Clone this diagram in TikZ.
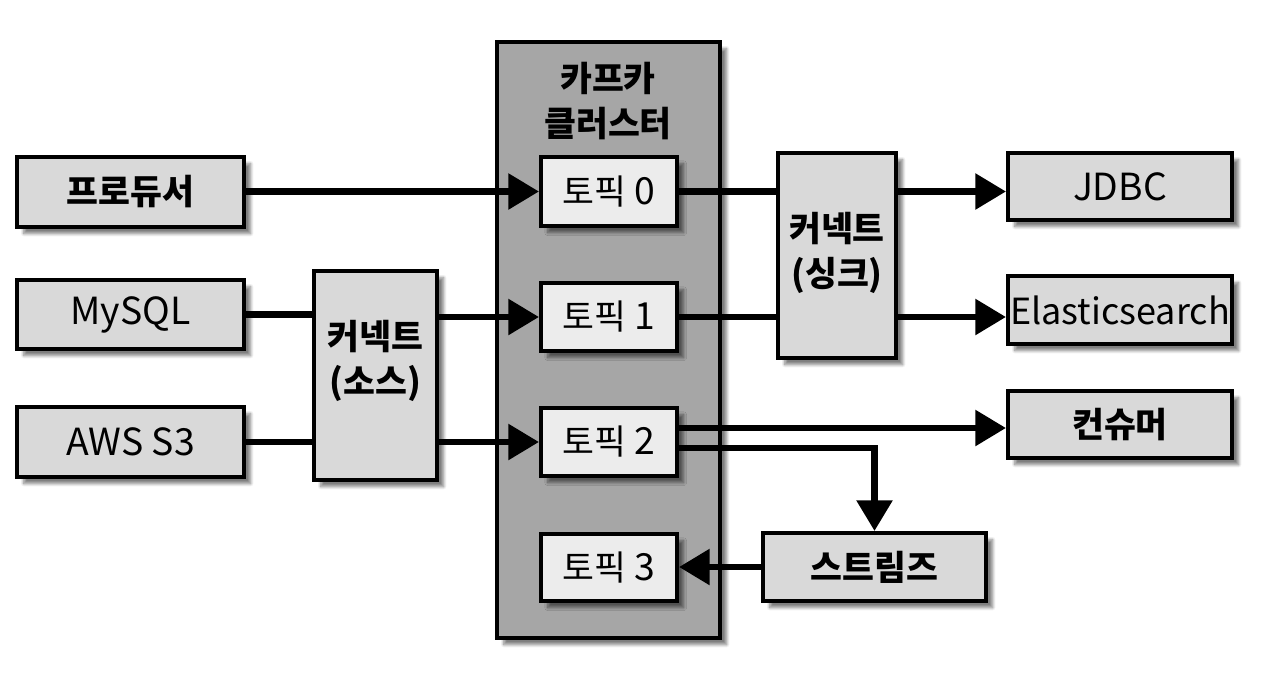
\documentclass[tikz,border=0pt]{standalone}
\usepackage{fontspec}
\setmainfont{Noto Sans CJK KR}
\usetikzlibrary{arrows.meta,fit,shadows.blur}
\definecolor{boxgray}{RGB}{217,217,217}
\definecolor{topicgray}{RGB}{236,236,236}
\definecolor{clustergray}{RGB}{166,166,166}
\newcommand{\ko}{\fontsize{26pt}{34pt}\selectfont}
\newcommand{\la}{\fontsize{28pt}{34pt}\selectfont}
\begin{document}
\begin{tikzpicture}[x=0.75pt,y=-0.75pt,
  shade/.style={blur shadow={shadow xshift=5pt, shadow yshift=-5pt, shadow opacity=50, shadow blur steps=10}},
  box/.style={draw=black, line width=3pt, fill=boxgray, inner sep=0pt, shade},
  topic/.style={box, fill=topicgray},
  cluster/.style={box, fill=clustergray},
  txt/.style={inner sep=0pt, align=center},
  flow/.style={line width=5pt, -{Triangle[length=23pt,width=26pt]}},
  link/.style={line width=5pt},
]
\useasboundingbox (0,0) rectangle (1280,697);
% cluster
\node[cluster, fit={(497,42) (720,638)}] (cl) {};
\node[txt, font=\ko\bfseries] (title) at (608,101) {카프카\\클러스터};
% topics
\node[topic, fit={(541,157) (677,226)}] (t0) {};
\node[topic, fit={(541,283) (677,351)}] (t1) {};
\node[topic, fit={(541,408) (677,476)}] (t2) {};
\node[topic, fit={(541,534) (677,601)}] (t3) {};
\node[txt] (t0l) at (t0.center) {\ko 토픽 {\la 0}};
\node[txt] (t1l) at (t1.center) {\ko 토픽 {\la 1}};
\node[txt] (t2l) at (t2.center) {\ko 토픽 {\la 2}};
\node[txt] (t3l) at (t3.center) {\ko 토픽 {\la 3}};
% left
\node[box, fit={(17,157) (244,227)}] (prod) {};
\node[box, fit={(17,280) (244,349)}] (mysql) {};
\node[box, fit={(17,407) (244,477)}] (aws) {};
\node[box, fit={(314,271) (437,480)}] (src) {};
\node[txt, font=\ko\bfseries] (prodl) at (prod.center) {프로듀서};
\node[txt, font=\la] (mysqll) at (mysql.center) {MySQL};
\node[txt, font=\la] (awsl) at (aws.center) {AWS S3};
\node[txt, font=\ko\bfseries] (srcl) at ([yshift=11pt]src.center) {커넥트\\(소스)};
% right
\node[box, fit={(778,153) (896,358)}] (sink) {};
\node[box, fit={(1008,153) (1232,220)}] (jdbc) {};
\node[box, fit={(1008,276) (1232,344)}] (es) {};
\node[box, fit={(1008,391) (1232,458)}] (cons) {};
\node[box, fit={(763,533) (986,601)}] (str) {};
\node[txt, font=\ko\bfseries] (sinkl) at ([yshift=2pt]sink.center) {커넥트\\(싱크)};
\node[txt, font=\la] (jdbcl) at (jdbc.center) {JDBC};
\node[txt, font=\fontsize{27pt}{34pt}\selectfont] (esl) at (es.center) {Elasticsearch};
\node[txt, font=\ko\bfseries] (consl) at (cons.center) {컨슈머};
\node[txt, font=\ko\bfseries] (strl) at (str.center) {스트림즈};
% connectors
\draw[flow] (prod.east |- t0.west) -- (t0.west);
\draw[link] (mysql.east) -- (mysql.east -| src.west);
\draw[link] (aws.east) -- (aws.east -| src.west);
\draw[flow] (src.east |- t1.west) -- (t1.west);
\draw[flow] (src.east |- t2.west) -- (t2.west);
\draw[link] (t0.east) -- (t0.east -| sink.west);
\draw[link] (t1.east) -- (t1.east -| sink.west);
\draw[flow] (sink.east |- t0.east) -- (t0.east -| jdbc.west);
\draw[flow] (sink.east |- t1.east) -- (t1.east -| es.west);
\coordinate (t2a) at ([yshift=10.5pt]t2.east);
\coordinate (t2b) at ([yshift=-4.5pt]t2.east);
\draw[flow] (t2a) -- (t2a -| cons.west);
\draw[flow] (t2b) -| (str.north);
\draw[flow] (str.west) -- (str.west -| t3.east);
\end{tikzpicture}
\end{document}
